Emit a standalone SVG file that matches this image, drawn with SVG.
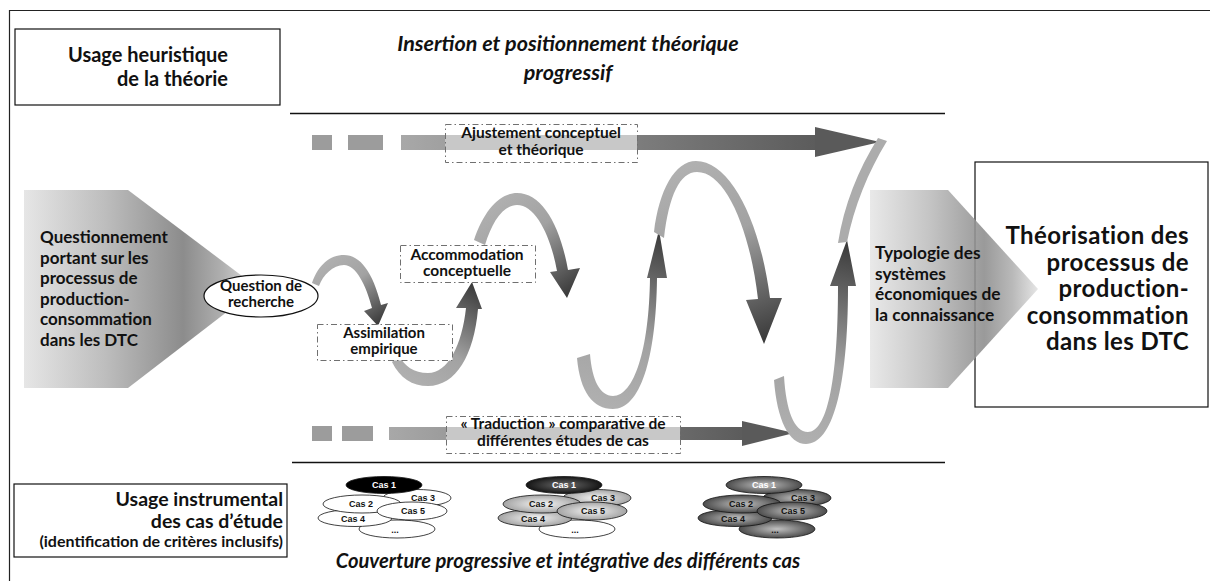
<svg xmlns="http://www.w3.org/2000/svg" width="1210" height="581" viewBox="0 0 1210 581">
  <style>
    text { font-family: Lato, "Open Sans", "Liberation Sans", sans-serif; font-weight: 700; fill: #111; }
    .it { font-style: italic; }
    .box { fill: #fff; stroke: #111; stroke-width: 1.2; }
    .lbl { fill: none; stroke: #707070; stroke-width: 1; stroke-dasharray: 6 3 1.5 3; }
    .lblw { fill: #fff; stroke: #707070; stroke-width: 1; stroke-dasharray: 6 3 1.5 3; }
    .cas { stroke: #111; stroke-width: 0.8; }
    .cast { font-family: "Liberation Sans", Arial, sans-serif; font-size: 9px; text-anchor: middle; }
    .mid { text-anchor: middle; }
    .end { text-anchor: end; }
  </style>
  <defs>
    <linearGradient id="penta" gradientUnits="objectBoundingBox" x1="0" y1="0" x2="1" y2="0">
      <stop offset="0" stop-color="#e6e6e6"/>
      <stop offset="0.35" stop-color="#bdbdbd"/>
      <stop offset="0.68" stop-color="#8c8c8c"/>
      <stop offset="0.85" stop-color="#b0b0b0"/>
      <stop offset="1" stop-color="#e2e2e2"/>
    </linearGradient>
    <linearGradient id="barTop" gradientUnits="userSpaceOnUse" x1="401" y1="0" x2="815" y2="0">
      <stop offset="0" stop-color="#a8a8a8"/>
      <stop offset="1" stop-color="#5c5c5c"/>
    </linearGradient>
    <linearGradient id="barBot" gradientUnits="userSpaceOnUse" x1="389" y1="0" x2="742" y2="0">
      <stop offset="0" stop-color="#a8a8a8"/>
      <stop offset="1" stop-color="#5c5c5c"/>
    </linearGradient>
    <linearGradient id="c1" gradientUnits="userSpaceOnUse" x1="330" y1="258" x2="378" y2="326">
      <stop offset="0" stop-color="#b0b0b0"/><stop offset="0.4" stop-color="#a2a2a2"/><stop offset="1" stop-color="#383838"/>
    </linearGradient>
    <linearGradient id="c2" gradientUnits="userSpaceOnUse" x1="410" y1="385" x2="472" y2="282">
      <stop offset="0" stop-color="#b0b0b0"/><stop offset="0.4" stop-color="#a2a2a2"/><stop offset="1" stop-color="#383838"/>
    </linearGradient>
    <linearGradient id="c3" gradientUnits="userSpaceOnUse" x1="495" y1="200" x2="567" y2="298">
      <stop offset="0" stop-color="#b0b0b0"/><stop offset="0.4" stop-color="#a2a2a2"/><stop offset="1" stop-color="#383838"/>
    </linearGradient>
    <linearGradient id="c4" gradientUnits="userSpaceOnUse" x1="600" y1="408" x2="659" y2="230">
      <stop offset="0" stop-color="#b0b0b0"/><stop offset="0.4" stop-color="#a2a2a2"/><stop offset="1" stop-color="#383838"/>
    </linearGradient>
    <linearGradient id="c5" gradientUnits="userSpaceOnUse" x1="690" y1="165" x2="764" y2="344">
      <stop offset="0" stop-color="#b0b0b0"/><stop offset="0.4" stop-color="#a2a2a2"/><stop offset="1" stop-color="#383838"/>
    </linearGradient>
    <linearGradient id="c6" gradientUnits="userSpaceOnUse" x1="795" y1="444" x2="847" y2="240">
      <stop offset="0" stop-color="#b0b0b0"/><stop offset="0.4" stop-color="#a2a2a2"/><stop offset="1" stop-color="#383838"/>
    </linearGradient>
    <radialGradient id="gLight" cx="0.5" cy="0.5" r="0.5">
      <stop offset="0" stop-color="#f6f6f6"/><stop offset="1" stop-color="#a4a4a4"/>
    </radialGradient>
    <radialGradient id="gDark" cx="0.5" cy="0.5" r="0.5">
      <stop offset="0" stop-color="#6a6a6a"/><stop offset="1" stop-color="#151515"/>
    </radialGradient>
    <radialGradient id="gMid" cx="0.5" cy="0.5" r="0.5">
      <stop offset="0" stop-color="#c0c0c0"/><stop offset="1" stop-color="#4c4c4c"/>
    </radialGradient>
  </defs>

  <!-- outer frame -->
  <path d="M9.5 581 V10.5 H1210" fill="none" stroke="#222" stroke-width="1.2"/>

  <!-- top and bottom separators -->
  <line x1="290" y1="113.5" x2="945" y2="113.5" stroke="#111" stroke-width="1.5"/>
  <line x1="292" y1="462.5" x2="945" y2="462.5" stroke="#111" stroke-width="1.5"/>

  <g id="heuristique">
    <rect class="box" x="15" y="29" width="265" height="76"/>
    <text class="end" x="228" y="62" font-size="20">Usage heuristique</text>
    <text class="end" x="228" y="86" font-size="20">de la théorie</text>
  </g>

  <g id="titre-haut">
    <text class="it mid" x="568" y="51" font-size="21.5">Insertion et positionnement théorique</text>
    <text class="it mid" x="568" y="80" font-size="21.5">progressif</text>
  </g>

  <g id="questionnement">
    <polygon points="24,190 128,190 258,288 128,388 24,388" fill="url(#penta)"/>
    <text x="40" y="243" font-size="17">Questionnement</text>
    <text x="40" y="263.5" font-size="17">portant sur les</text>
    <text x="40" y="284" font-size="17">processus de</text>
    <text x="40" y="304.5" font-size="17">production-</text>
    <text x="40" y="325" font-size="17">consommation</text>
    <text x="40" y="345.5" font-size="17">dans les DTC</text>
  </g>

  <g id="theorisation">
    <rect class="box" x="975" y="162" width="233" height="245"/>
    <text class="end" x="1189" y="244" font-size="24" letter-spacing="0.4">Théorisation des</text>
    <text class="end" x="1189" y="270.5" font-size="24" letter-spacing="0.4">processus de</text>
    <text class="end" x="1189" y="297" font-size="24" letter-spacing="0.4">production-</text>
    <text class="end" x="1189" y="323.5" font-size="24" letter-spacing="0.4">consommation</text>
    <text class="end" x="1189" y="350" font-size="24" letter-spacing="0.4">dans les DTC</text>
  </g>

  <g id="typologie">
    <polygon points="870,190 948,190 1038,289 948,388 870,388" fill="url(#penta)" opacity="0.88"/>
    <text x="875" y="259" font-size="17.3">Typologie des</text>
    <text x="875" y="279.5" font-size="17.3">systèmes</text>
    <text x="875" y="300" font-size="17.3">économiques de</text>
    <text x="875" y="320.5" font-size="17.3">la connaissance</text>
  </g>

  <g id="connecteurs">
    <!-- upper straight track -->
    <rect x="312" y="135" width="20" height="15" fill="#9c9c9c"/>
    <rect x="348" y="135" width="35" height="15" fill="#9c9c9c"/>
    <rect x="401" y="135" width="416" height="15" fill="url(#barTop)"/>
    <polygon points="815,127 880,142 815,157" fill="#5a5a5a"/>
    <rect x="445" y="135" width="192" height="15" fill="#c8c8c8"/>
    <!-- lower straight track -->
    <rect x="312" y="426" width="20" height="15" fill="#9c9c9c"/>
    <rect x="342" y="426" width="31" height="15" fill="#9c9c9c"/>
    <rect x="389" y="427" width="355" height="13" fill="url(#barBot)"/>
    <polygon points="742,421 794,433 742,446" fill="#5a5a5a"/>
    <rect x="446" y="427" width="234" height="13" fill="#c8c8c8"/>
    <!-- curved transitions -->
    <path d="M312,283 C318,265 330,255 344,255 C360,255 373,272 381,305 L388,303 L378,326 L364,311 L372,308 C366,285 356,265 344,265 C333,265 323,275 319,286 Z" fill="url(#c1)"/>
    <path d="M392,362 C400,378 412,386 428,386 C456,386 474,355 478,309 L482,309 L472,282 L456,308 L466,308 C462,345 448,373 428,373 C414,373 404,366 399,355 Z" fill="url(#c2)"/>
    <path d="M474,240 C484,210 500,193 517,193 C542,193 560,225 568,270 L580,268 L567,298 L550,272 L557,271 C551,237 536,205 517,205 C503,205 492,222 485,245 Z" fill="url(#c3)"/>
    <path d="M577,358 C580,392 593,409 613,409 C640,409 656,360 657,278 L667,278 L659,230 L647,278 L650,278 C649,350 634,396 613,396 C600,396 592,380 590,354 Z" fill="url(#c4)"/>
    <path d="M654,232 C659,190 675,161 696,161 C730,161 760,220 770,298 L782,298 L764,344 L746,300 L758,299 C750,230 726,172 697,172 C680,172 669,195 664,238 Z" fill="url(#c5)"/>
    <path d="M774,380 C777,420 789,444 806,444 C832,444 848,390 848,286 L856,286 L847,240 L830,286 L838,286 C838,385 826,432 808,432 C794,432 786,410 784,376 Z" fill="url(#c6)"/>
    <path d="M838,243 C844,205 858,170 878,138 L887,141 C868,172 854,207 847,242 Z" fill="#acacac"/>
  </g>

  <g id="ajustement">
    <rect class="lbl" x="445.5" y="124.5" width="192" height="38"/>
    <text class="mid" x="541" y="137.5" font-size="15.5">Ajustement conceptuel</text>
    <text class="mid" x="541" y="154.5" font-size="15.5">et théorique</text>
  </g>

  <g id="traduction">
    <rect class="lbl" x="446.5" y="416.5" width="234" height="37"/>
    <text class="mid" x="563" y="428.5" font-size="15.5">« Traduction » comparative de</text>
    <text class="mid" x="563" y="445.5" font-size="15.5">différentes études de cas</text>
  </g>

  <g id="question">
    <ellipse cx="261" cy="296" rx="57" ry="21" fill="#fff" stroke="#111" stroke-width="1.2"/>
    <text class="mid" x="261" y="290.5" font-size="15">Question de</text>
    <text class="mid" x="261" y="306.5" font-size="15">recherche</text>
  </g>

  <g id="assimilation">
    <rect class="lblw" x="317.5" y="324.5" width="135" height="36"/>
    <text class="mid" x="384" y="338" font-size="15">Assimilation</text>
    <text class="mid" x="384" y="354" font-size="15">empirique</text>
  </g>

  <g id="accommodation">
    <rect class="lblw" x="400.5" y="245.5" width="135" height="37"/>
    <text class="mid" x="467" y="259.5" font-size="15.5">Accommodation</text>
    <text class="mid" x="467" y="275.5" font-size="15.5">conceptuelle</text>
  </g>

  <g id="instrumental">
    <rect class="box" x="14" y="484" width="273" height="73"/>
    <text class="end" x="283" y="506" font-size="19.5">Usage instrumental</text>
    <text class="end" x="283" y="528" font-size="19.5">des cas d’étude</text>
    <text class="end" x="283" y="547" font-size="16">(identification de critères inclusifs)</text>
  </g>

  <g id="cas-groupe-1">
    <ellipse class="cas" cx="397" cy="529" rx="38" ry="9" fill="#fff"/>
    <ellipse class="cas" cx="417" cy="498" rx="34" ry="8.5" fill="#fff"/>
    <ellipse class="cas" cx="355" cy="518" rx="37" ry="8.5" fill="#fff"/>
    <ellipse class="cas" cx="362" cy="504" rx="39" ry="9" fill="#fff"/>
    <ellipse class="cas" cx="412" cy="511" rx="35" ry="9" fill="#fff"/>
    <ellipse class="cas" cx="384" cy="485" rx="38" ry="8.5" fill="#000"/>
    <text class="cast" x="384" y="488" style="fill:#fff">Cas 1</text>
    <text class="cast" x="361" y="507">Cas 2</text>
    <text class="cast" x="423" y="501">Cas 3</text>
    <text class="cast" x="353" y="522">Cas 4</text>
    <text class="cast" x="413" y="514">Cas 5</text>
    <text class="cast" x="395" y="533">...</text>
  </g>

  <g id="cas-groupe-2">
    <ellipse class="cas" cx="577" cy="529" rx="38" ry="9" fill="#fff"/>
    <ellipse class="cas" cx="597" cy="498" rx="34" ry="8.5" fill="url(#gLight)"/>
    <ellipse class="cas" cx="535" cy="518" rx="37" ry="8.5" fill="url(#gLight)"/>
    <ellipse class="cas" cx="542" cy="504" rx="39" ry="9" fill="url(#gLight)"/>
    <ellipse class="cas" cx="592" cy="511" rx="35" ry="9" fill="url(#gLight)"/>
    <ellipse class="cas" cx="564" cy="485" rx="38" ry="8.5" fill="url(#gDark)"/>
    <text class="cast" x="564" y="488" style="fill:#fff">Cas 1</text>
    <text class="cast" x="541" y="507">Cas 2</text>
    <text class="cast" x="603" y="501">Cas 3</text>
    <text class="cast" x="533" y="522">Cas 4</text>
    <text class="cast" x="593" y="514">Cas 5</text>
    <text class="cast" x="575" y="533">...</text>
  </g>

  <g id="cas-groupe-3">
    <ellipse class="cas" cx="777" cy="529" rx="38" ry="9" fill="url(#gMid)"/>
    <ellipse class="cas" cx="797" cy="498" rx="34" ry="8.5" fill="url(#gMid)"/>
    <ellipse class="cas" cx="735" cy="518" rx="37" ry="8.5" fill="url(#gMid)"/>
    <ellipse class="cas" cx="742" cy="504" rx="39" ry="9" fill="url(#gMid)"/>
    <ellipse class="cas" cx="792" cy="511" rx="35" ry="9" fill="url(#gMid)"/>
    <ellipse class="cas" cx="764" cy="485" rx="38" ry="8.5" fill="url(#gMid)"/>
    <text class="cast" x="764" y="488" style="fill:#fff">Cas 1</text>
    <text class="cast" x="741" y="507">Cas 2</text>
    <text class="cast" x="803" y="501">Cas 3</text>
    <text class="cast" x="733" y="522">Cas 4</text>
    <text class="cast" x="793" y="514">Cas 5</text>
    <text class="cast" x="775" y="533">...</text>
  </g>

  <g id="titre-bas">
    <text class="it mid" x="568" y="568" font-size="20.2">Couverture progressive et intégrative des différents cas</text>
  </g>
</svg>
